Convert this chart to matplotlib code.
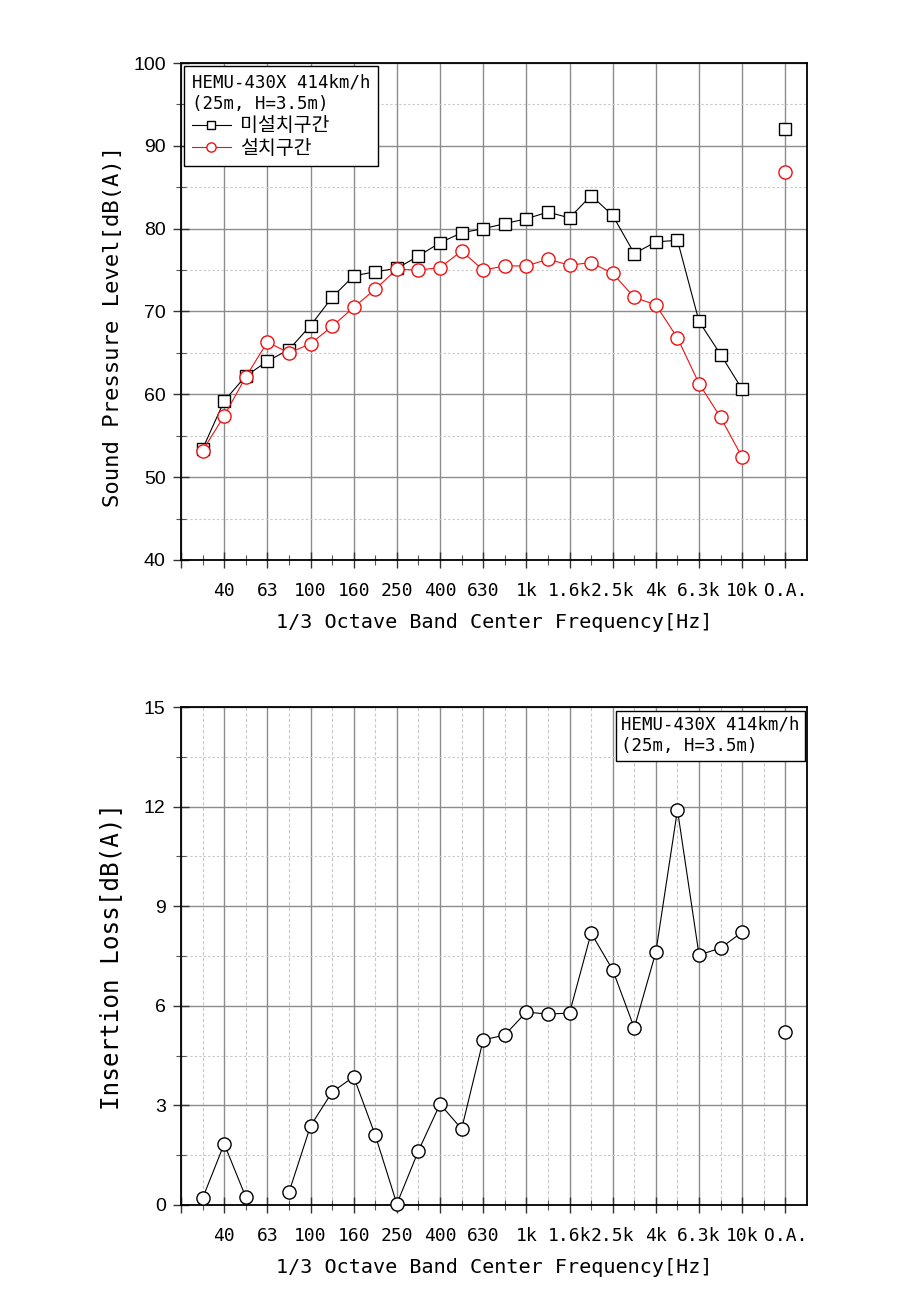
import numpy as np
import matplotlib
matplotlib.use('Agg')
import matplotlib.pyplot as plt
from matplotlib.ticker import MultipleLocator, FixedLocator, NullFormatter

# 1/3 octave bands (31.5 Hz .. 10 kHz) + overall level
bands = ['31.5', '40', '50', '63', '80', '100', '125', '160', '200', '250', '315', '400', '500',
         '630', '800', '1k', '1.25k', '1.6k', '2k', '2.5k', '3.15k', '4k', '5k', '6.3k', '8k', '10k']
tick_labels = ['40', '63', '100', '160', '250', '400', '630', '1k', '1.6k', '2.5k', '4k', '6.3k', '10k', 'O.A.']

# 미설치구간 (without barrier)
spl_without = [53.4, 59.2, 62.2, 64.0, 65.4, 68.3, 71.7, 74.3, 74.8, 75.2, 76.7, 78.3, 79.5,
               80.0, 80.6, 81.2, 82.0, 81.3, 84.0, 81.6, 77.0, 78.4, 78.6, 68.8, 64.8, 60.6]
spl_without_oa = 92.0
# 설치구간 (with barrier)
spl_with = [53.2, 57.4, 62.1, 66.3, 65.0, 66.1, 68.2, 70.5, 72.7, 75.1, 75.0, 75.3, 77.3,
            75.0, 75.5, 75.5, 76.3, 75.6, 75.9, 74.6, 71.7, 70.8, 66.8, 61.3, 57.2, 52.4]
spl_with_oa = 86.8

# insertion loss (63 Hz is below 0, not shown)
insertion_loss = [0.2, 1.84, 0.24, np.nan, 0.38, 2.38, 3.4, 3.86, 2.1, 0.03, 1.63, 3.04, 2.29,
                  4.97, 5.12, 5.81, 5.75, 5.78, 8.19, 7.08, 5.33, 7.62, 11.9, 7.53, 7.74, 8.22]
insertion_loss_oa = 5.21

info_text = 'HEMU-430X 414km/h\n(25m, H=3.5m)'

mono = ['DejaVu Sans Mono', 'Noto Sans CJK KR']
sans = 'Liberation Sans'
red = '#f01010'

xb = np.arange(1, len(bands) + 1)
x_oa = len(bands) + 2
x_max = len(bands) + 3

fig = plt.figure(figsize=(9.11, 12.89), dpi=100)
ax1 = fig.add_axes([0.1987, 0.5656, 0.6871, 0.3855])
ax2 = fig.add_axes([0.1987, 0.0652, 0.6871, 0.3863])


def style_axes(ax, ymin, ymax, ymaj, ymin_step, minor_vgrid):
    ax.set_xlim(0, x_max)
    ax.set_ylim(ymin, ymax)
    ax.xaxis.set_major_locator(FixedLocator(np.arange(0, x_max, 2)))
    ax.xaxis.set_minor_locator(FixedLocator(np.arange(1, x_max, 2)))
    ax.set_xticklabels([''] + tick_labels, family=mono, fontsize=13)
    ax.xaxis.set_minor_formatter(NullFormatter())
    ax.yaxis.set_major_locator(MultipleLocator(ymaj))
    ax.yaxis.set_minor_locator(MultipleLocator(ymin_step))
    for lab in ax.get_yticklabels():
        lab.set_family(sans)
        lab.set_fontsize(14)
    ax.tick_params(which='major', direction='inout', length=12, width=1, color='#333333', pad=5)
    ax.tick_params(axis='x', which='major', pad=10)
    ax.tick_params(which='minor', direction='inout', length=7, width=0.8, color='#555555')
    ax.grid(which='major', axis='both', color='#8c8c8c', linestyle='-', linewidth=1)
    ax.grid(which='minor', axis='y', color='#c8c8c8', linestyle=(0, (2, 2)), linewidth=0.8)
    if minor_vgrid:
        ax.grid(which='minor', axis='x', color='#c8c8c8', linestyle=(0, (3, 2)), linewidth=0.8)
    ax.set_axisbelow(True)
    for sp in ax.spines.values():
        sp.set_color('black')
        sp.set_linewidth(1.3)
    ax.set_xlabel('1/3 Octave Band Center Frequency[Hz]', family=mono, fontsize=14.5, labelpad=9)


# ---- Panel 1: sound pressure level
style_axes(ax1, 40, 100, 10, 5, False)
ax1.plot(xb, spl_without, color='black', linewidth=0.8, marker='s', markersize=8,
         markerfacecolor='white', markeredgecolor='black', markeredgewidth=1, label='미설치구간')
ax1.plot(xb, spl_with, color=red, linewidth=0.8, marker='o', markersize=9.5,
         markerfacecolor='white', markeredgecolor=red, markeredgewidth=1, label='설치구간')
ax1.plot([x_oa], [spl_without_oa], linestyle='none', marker='s', markersize=8,
         markerfacecolor='white', markeredgecolor='black', markeredgewidth=1)
ax1.plot([x_oa], [spl_with_oa], linestyle='none', marker='o', markersize=9.5,
         markerfacecolor='white', markeredgecolor=red, markeredgewidth=1)
ax1.set_ylabel('Sound Pressure Level[dB(A)]', family=mono, fontsize=16)
ax1.yaxis.set_label_coords(-0.093, 0.47)

leg = ax1.legend(loc='upper left', title=info_text, alignment='left', frameon=True,
                 fancybox=False, edgecolor='black', framealpha=1, borderaxespad=0.15,
                 handlelength=2.0, handletextpad=0.5, labelspacing=0.2, borderpad=0.4,
                 prop={'family': mono, 'size': 14}, markerscale=0.7)
leg.get_title().set_family(mono)
leg.get_title().set_fontsize(12.5)
leg.get_frame().set_linewidth(1)

# ---- Panel 2: insertion loss
style_axes(ax2, 0, 15, 3, 1.5, True)
ax2.plot(xb, insertion_loss, color='black', linewidth=0.8, marker='o', markersize=9.5,
         markerfacecolor='white', markeredgecolor='black', markeredgewidth=1, clip_on=False, zorder=3)
ax2.plot([x_oa], [insertion_loss_oa], linestyle='none', marker='o', markersize=9.5,
         markerfacecolor='white', markeredgecolor='black', markeredgewidth=1)
ax2.set_ylabel('Insertion Loss[dB(A)]', family=mono, fontsize=17.5)
ax2.yaxis.set_label_coords(-0.092, 0.5)
ax2.text(0.988, 0.982, info_text, transform=ax2.transAxes, ha='right', va='top',
         multialignment='left', family=mono, fontsize=12.5, linespacing=1.25,
         bbox=dict(boxstyle='square,pad=0.3', facecolor='white', edgecolor='black', linewidth=1))

fig.savefig('out.png', dpi=100)
